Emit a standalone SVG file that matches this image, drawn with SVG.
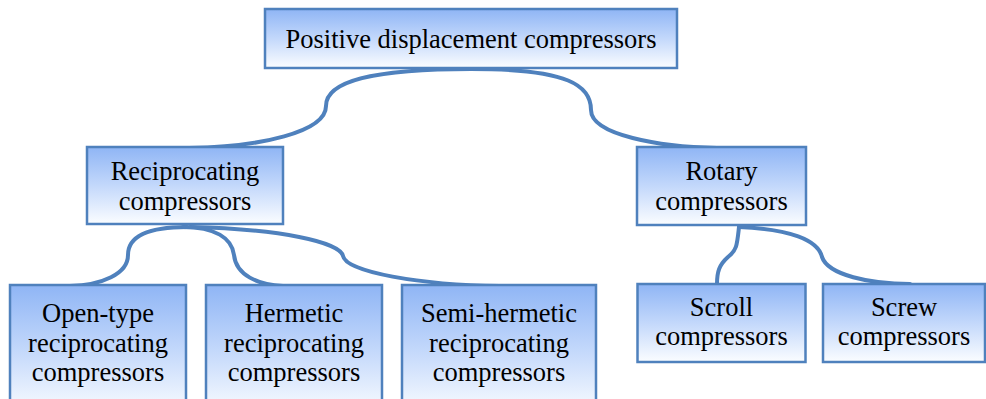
<svg xmlns="http://www.w3.org/2000/svg" width="986" height="399" viewBox="0 0 986 399">
<defs>
<linearGradient id="g" x1="0" y1="0" x2="0" y2="1">
<stop offset="0" stop-color="#8FB5F5"/>
<stop offset="0.5" stop-color="#C3D8FB"/>
<stop offset="1" stop-color="#FBFDFF"/>
</linearGradient>
<style>
.box{fill:url(#g);stroke:#4F81BD;stroke-width:2.5}
.t{font-family:"Liberation Serif","Times New Roman",serif;font-size:26.5px;fill:#000;text-anchor:middle}
.c{fill:none;stroke:#4F81BD;stroke-width:4;stroke-linecap:round}
</style>
</defs>
<rect width="986" height="399" fill="#fff"/>
<g id="connectors">
<path class="c" d="M471,69 C370,69 326,82 326,106 C326,132 260,147 189,148"/>
<path class="c" d="M471,69 C570,69 591,86 591,110 C591,135 660,147 717,148"/>
<path class="c" d="M187,227 C145,227 128,238 128,255 C128,274 102,285 70,286"/>
<path class="c" d="M183,227 C215,227 232,238 234,255 C236,275 258,285 283,286"/>
<path class="c" d="M190,227 C280,229 340,242 343,256 C346,272 420,285 500,286"/>
<path class="c" d="M739,227 C737,245 737,250 728,257 C719,265 717,272 717,284"/>
<path class="c" d="M739,227 C790,229 818,240 822,257 C828,275 870,284 910,284"/>
</g>
<g id="n-positive">
<rect class="box" x="265" y="9" width="412" height="59"/>
<text class="t" x="471" y="48">Positive displacement compressors</text>
</g>
<g id="n-reciprocating">
<rect class="box" x="87" y="147" width="196" height="77"/>
<text class="t" x="185" y="180">Reciprocating</text>
<text class="t" x="185" y="209.5">compressors</text>
</g>
<g id="n-rotary">
<rect class="box" x="637" y="147" width="169" height="78"/>
<text class="t" x="721.5" y="179.5">Rotary</text>
<text class="t" x="721.5" y="210">compressors</text>
</g>
<g id="n-open">
<rect class="box" x="10" y="285" width="176" height="130"/>
<text class="t" x="98" y="321.5">Open-type</text>
<text class="t" x="98" y="351.5">reciprocating</text>
<text class="t" x="98" y="381">compressors</text>
</g>
<g id="n-hermetic">
<rect class="box" x="206" y="285" width="176" height="130"/>
<text class="t" x="294" y="321.5">Hermetic</text>
<text class="t" x="294" y="351.5">reciprocating</text>
<text class="t" x="294" y="381">compressors</text>
</g>
<g id="n-semi">
<rect class="box" x="402" y="285" width="194" height="130"/>
<text class="t" x="499" y="321.5">Semi-hermetic</text>
<text class="t" x="499" y="351.5">reciprocating</text>
<text class="t" x="499" y="381">compressors</text>
</g>
<g id="n-scroll">
<rect class="box" x="637.5" y="284" width="168" height="78"/>
<text class="t" x="721.5" y="316">Scroll</text>
<text class="t" x="721.5" y="345">compressors</text>
</g>
<g id="n-screw">
<rect class="box" x="823" y="284" width="162" height="78"/>
<text class="t" x="904" y="316">Screw</text>
<text class="t" x="904" y="345">compressors</text>
</g>
</svg>
